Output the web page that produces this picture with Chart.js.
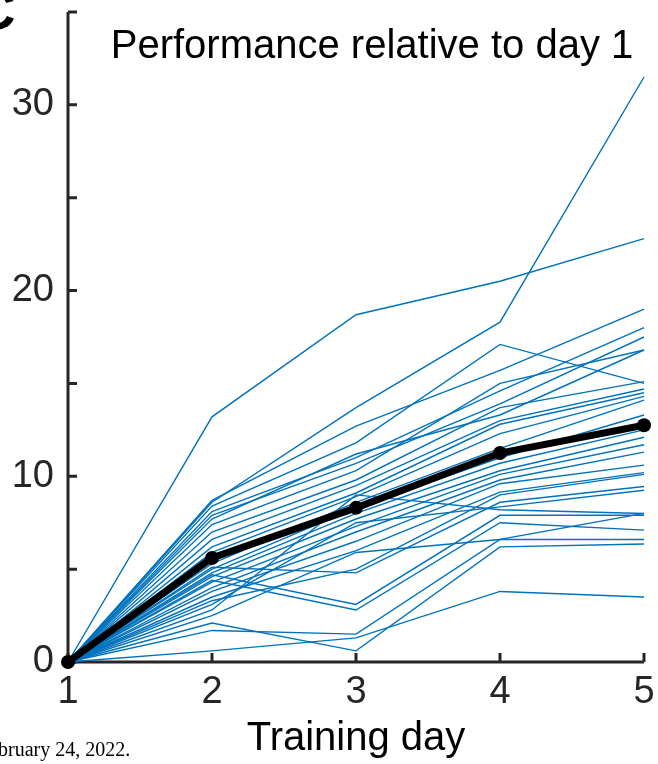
<!DOCTYPE html>
<html lang="en">
<head>
  <meta charset="UTF-8">
  <title>Performance relative to day 1</title>
  <script src="https://cdn.jsdelivr.net/npm/chart.js"></script>
  <style>
    html, body {
      margin: 0;
      padding: 0;
      background: #fff;
      overflow: hidden;
    }
    #wrap {
      position: relative;
      width: 658px;
      height: 764px;
      overflow: hidden;
    }
    canvas {
      display: block;
    }
    .panel {
      position: absolute;
      left: -25px;
      top: -23px;
      font: bold 56px "Liberation Sans", Arial, sans-serif;
      color: #000;
    }
    .stamp {
      position: absolute;
      left: -22px;
      top: 738px;
      font: 20px "Liberation Serif", "Times New Roman", serif;
      color: #000;
      white-space: nowrap;
    }
  </style>
</head>
<body>
<div id="wrap">
  <canvas id="perfChart" width="658" height="764"></canvas>
  <div class="panel">C</div>
  <div class="stamp">February 24, 2022.</div>
</div>

<script>
  const days = [1, 2, 3, 4, 5];
  const yTicks = [0, 10, 20, 30];
  const yMax = 35;

  // one row per subject, performance gain vs. day 1
  const subjectCurves = [
    [0, 8.6, 13.7, 18.3, 31.5],
    [0, 13.2, 18.7, 20.5, 22.8],
    [0, 8.7, 12.7, 15.7, 19.0],
    [0, 8.4, 11.8, 17.1, 15.0],
    [0, 8.1, 11.0, 14.6, 18.0],
    [0, 7.9, 10.7, 13.9, 17.5],
    [0, 7.7, 11.2, 13.3, 16.8],
    [0, 7.4, 10.3, 15.0, 16.8],
    [0, 7.0, 9.8, 13.7, 15.1],
    [0, 6.6, 9.5, 13.0, 14.7],
    [0, 6.2, 9.1, 12.8, 14.5],
    [0, 5.9, 8.9, 12.3, 14.3],
    [0, 5.3, 8.6, 11.5, 14.1],
    [0, 5.0, 8.3, 11.0, 13.3],
    [0, 4.8, 8.0, 10.7, 12.5],
    [0, 4.6, 7.7, 10.3, 12.1],
    [0, 4.3, 7.3, 10.1, 11.7],
    [0, 4.0, 7.0, 9.8, 11.3],
    [0, 3.8, 6.5, 9.6, 10.6],
    [0, 3.5, 6.0, 9.15, 10.2],
    [0, 3.3, 5.0, 9.0, 10.1],
    [0, 5.1, 4.8, 8.6, 9.45],
    [0, 3.1, 7.5, 8.35, 9.25],
    [0, 2.8, 9.0, 8.2, 8.0],
    [0, 4.7, 3.1, 7.9, 7.9],
    [0, 4.4, 2.8, 7.5, 7.1],
    [0, 2.5, 5.9, 6.6, 6.6],
    [0, 2.1, 0.6, 6.2, 6.35],
    [0, 1.7, 1.5, 6.6, 8.0],
    [0, 0.6, 1.3, 3.8, 3.5]
  ];

  const meanCurve = [0, 5.6, 8.3, 11.25, 12.75];

  const titleText = 'Performance relative to day 1';
  const xTitle = 'Training day';

  const axisColor = '#262626';
  const subjectColor = '#0072bd';
  const fontFamily = '"Liberation Sans", Arial, sans-serif';

  const toPoints = vals => vals.map((v, i) => ({ x: days[i], y: v }));

  const datasets = [
    {
      label: 'Mean',
      data: toPoints(meanCurve),
      borderColor: '#000',
      backgroundColor: '#000',
      borderWidth: 7,
      pointRadius: 7,
      pointBorderWidth: 0,
      pointBackgroundColor: '#000',
      order: -1,
      clip: false
    }
  ];
  subjectCurves.forEach((row, i) => {
    datasets.push({
      label: 'Subject ' + (i + 1),
      data: toPoints(row),
      borderColor: subjectColor,
      borderWidth: 1.4,
      pointRadius: 0,
      tension: 0,
      clip: false
    });
  });

  // MATLAB-style box: axis lines with inward ticks, title inside the axes
  const axesPlugin = {
    id: 'matlabAxes',
    beforeDatasetsDraw(chart) {
      const { ctx, chartArea, scales: { x, y } } = chart;
      ctx.save();
      ctx.strokeStyle = axisColor;
      ctx.lineWidth = 3;
      ctx.beginPath();
      ctx.moveTo(chartArea.left, chartArea.top);
      ctx.lineTo(chartArea.left, chartArea.bottom);
      ctx.lineTo(chartArea.right, chartArea.bottom);
      ctx.stroke();

      ctx.beginPath();
      for (let v = 0; v <= yMax; v += 5) {
        const py = y.getPixelForValue(v);
        ctx.moveTo(chartArea.left, py);
        ctx.lineTo(chartArea.left + 9, py);
      }
      days.forEach(d => {
        const px = x.getPixelForValue(d);
        ctx.moveTo(px, chartArea.bottom);
        ctx.lineTo(px, chartArea.bottom - 9);
      });
      ctx.stroke();
      ctx.restore();
    },
    afterDraw(chart) {
      const { ctx, chartArea } = chart;
      ctx.save();
      ctx.fillStyle = '#000';
      ctx.font = '40px ' + fontFamily;
      ctx.textAlign = 'center';
      ctx.textBaseline = 'alphabetic';
      ctx.fillText(titleText, (chartArea.left + chartArea.right) / 2 + 16, 58);
      ctx.restore();
    }
  };

  new Chart(document.getElementById('perfChart'), {
    type: 'line',
    data: { datasets: datasets },
    options: {
      responsive: false,
      animation: false,
      devicePixelRatio: 1,
      layout: {
        padding: { top: 12, right: 14, bottom: 0, left: 0 }
      },
      plugins: {
        legend: { display: false },
        tooltip: { enabled: false },
        title: { display: false }
      },
      scales: {
        x: {
          type: 'linear',
          min: 1,
          max: 5,
          grid: { display: false, drawTicks: false },
          border: { display: false },
          ticks: {
            stepSize: 1,
            padding: 8,
            color: axisColor,
            font: { family: fontFamily, size: 38 }
          },
          title: {
            display: true,
            text: xTitle,
            color: '#000',
            padding: { top: 0, bottom: 1 },
            font: { family: fontFamily, size: 40 }
          },
          afterFit(scale) {
            scale.height = 102;
            scale.paddingLeft = 0;
            scale.paddingRight = 0;
          }
        },
        y: {
          type: 'linear',
          min: 0,
          max: yMax,
          grid: { display: false, drawTicks: false },
          border: { display: false },
          afterBuildTicks(scale) {
            scale.ticks = yTicks.map(v => ({ value: v }));
          },
          ticks: {
            padding: 14,
            color: axisColor,
            font: { family: fontFamily, size: 38 }
          },
          afterFit(scale) {
            scale.width = 68;
            scale.paddingTop = 0;
            scale.paddingBottom = 0;
          }
        }
      }
    },
    plugins: [axesPlugin]
  });
</script>
</body>
</html>
